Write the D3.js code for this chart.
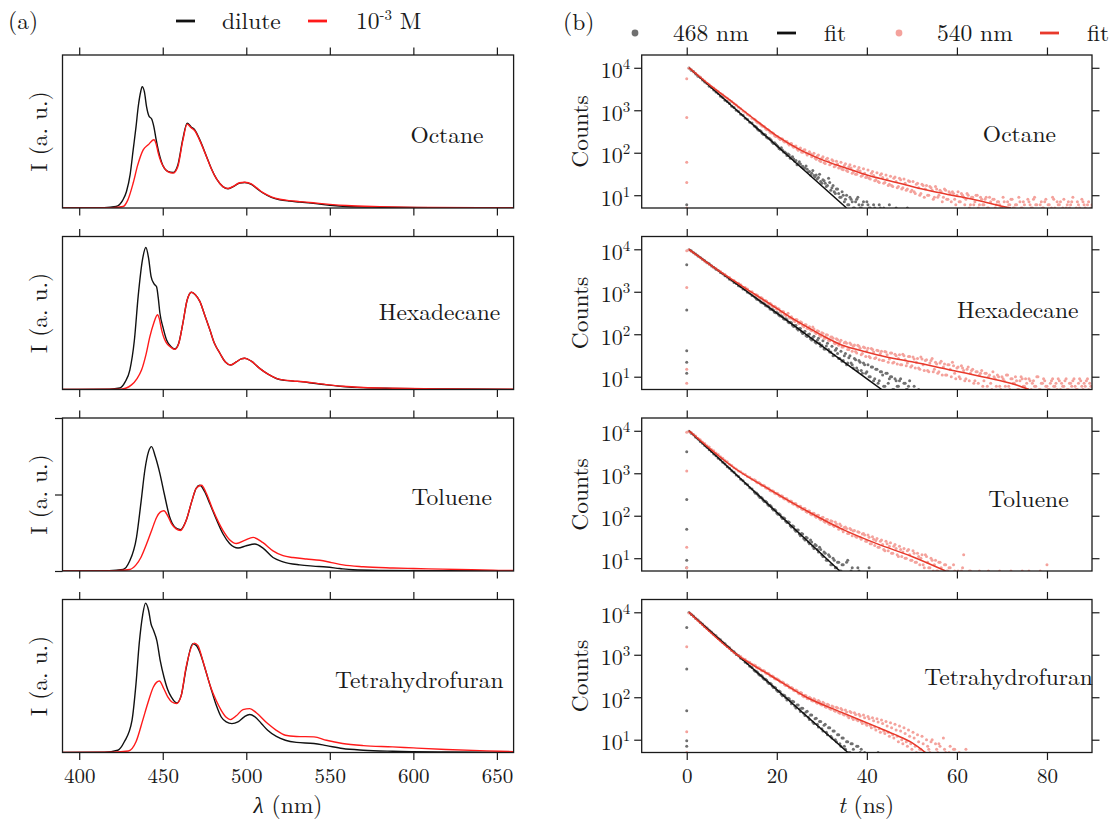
<!DOCTYPE html>
<html>
<head>
<meta charset="utf-8">
<script src="https://cdnjs.cloudflare.com/ajax/libs/d3/7.8.5/d3.min.js"></script>
</head>
<body style="margin:0;background:#fff">
<div id="canvas"></div>
<script>
// ---- data ----
var solvents = ["Octane", "Hexadecane", "Toluene", "Tetrahydrofuran"];
var wavelengthTicks = [400, 450, 500, 550, 600, 650];
var timeTicks = [0, 20, 40, 60, 80];
var countTicks = [10, 100, 1000, 10000];
var intensityTicks = [0, 0.5, 1];   // only drawn on the toluene panel

// emission spectra [nm, normalised intensity]
var octaneDilute = [[390,0],[415,0.002],[422,0.01],[426,0.05],[428.3,0.108],[430.5,0.22],[432.3,0.38],[434,0.53],[435.3,0.66],[436.8,0.76],[437.7,0.793],[439,0.76],[440.3,0.663],[441.8,0.6],[443.3,0.583],[444.7,0.53],[446,0.45],[447.3,0.38],[450,0.28],[453,0.24],[456.2,0.232],[459,0.28],[462,0.45],[464.6,0.555],[467,0.53],[469.2,0.51],[472,0.45],[476.2,0.337],[479,0.26],[482.2,0.19],[486,0.14],[489.1,0.126],[493,0.145],[496,0.163],[499.1,0.167],[503,0.155],[506,0.13],[510,0.098],[515,0.07],[520,0.054],[526,0.045],[532,0.039],[540,0.03],[550,0.018],[560,0.01],[580,0.005],[610,0.002],[660,0.001]];
var octaneConc = [[390,0],[420,0.002],[426.3,0.01],[429,0.05],[432.3,0.163],[435,0.28],[438.3,0.38],[441.3,0.413],[444.7,0.446],[446,0.42],[447.3,0.359],[449,0.3],[451,0.26],[453,0.238],[456.2,0.228],[459,0.27],[462,0.44],[464.6,0.548],[467,0.525],[469.2,0.505],[472,0.445],[476.2,0.335],[479,0.258],[482.2,0.19],[486,0.14],[489.1,0.127],[493,0.147],[496,0.165],[499.1,0.168],[503,0.157],[506,0.133],[510,0.1],[515,0.073],[520,0.057],[526,0.048],[532,0.042],[540,0.034],[550,0.024],[560,0.016],[580,0.009],[610,0.004],[660,0.002]];
var hexadecaneDilute = [[390,0],[418,0.002],[424.3,0.01],[427.5,0.05],[430.3,0.127],[433,0.32],[435.3,0.61],[437.9,0.85],[439.9,0.928],[441.5,0.86],[443,0.74],[444.8,0.69],[446.3,0.671],[447.3,0.6],[448.3,0.5],[450.3,0.4],[452.3,0.324],[455,0.28],[457.2,0.265],[459.5,0.3],[462,0.43],[464.5,0.58],[467.2,0.636],[469.5,0.62],[472.2,0.576],[475,0.49],[478.2,0.39],[481,0.3],[484.2,0.237],[487.5,0.18],[490.7,0.16],[494,0.18],[497,0.2],[499.1,0.204],[503,0.185],[508,0.138],[513,0.1],[518,0.072],[523,0.06],[528,0.055],[534,0.05],[540,0.041],[548,0.03],[557.7,0.02],[570,0.012],[587.7,0.007],[620,0.003],[660,0.001]];
var hexadecaneConc = [[390,0],[425,0.002],[431.3,0.03],[434.5,0.07],[437.3,0.127],[440,0.23],[442.3,0.346],[444.5,0.43],[446.9,0.489],[448,0.46],[449.3,0.39],[451,0.33],[452.5,0.3],[455,0.275],[457.2,0.262],[459.5,0.297],[462,0.43],[464.5,0.58],[467.2,0.636],[469.5,0.62],[472.2,0.576],[475,0.49],[478.2,0.39],[481,0.3],[484.2,0.237],[487.5,0.18],[490.7,0.16],[494,0.18],[497,0.2],[499.1,0.204],[503,0.185],[508,0.138],[513,0.1],[518,0.073],[523,0.061],[528,0.056],[534,0.051],[540,0.043],[548,0.032],[557.7,0.021],[570,0.013],[587.7,0.008],[620,0.004],[660,0.002]];
var tolueneDilute = [[390,0],[418,0.002],[426.3,0.01],[430,0.06],[434.3,0.22],[437,0.45],[439.3,0.66],[441.5,0.78],[443.3,0.813],[445.5,0.75],[448.3,0.637],[451,0.5],[454.2,0.351],[457,0.29],[460.6,0.27],[464,0.33],[467.5,0.46],[470,0.54],[472.2,0.56],[475,0.52],[478.2,0.44],[482,0.34],[486.1,0.242],[490,0.18],[495.1,0.15],[500,0.165],[505.1,0.176],[510,0.15],[516,0.088],[522,0.06],[532,0.04],[540,0.032],[548,0.026],[556,0.016],[563.9,0.008],[580,0.004],[610,0.002],[660,0.001]];
var tolueneConc = [[390,0],[422,0.002],[430.3,0.01],[434,0.04],[437,0.09],[440.3,0.176],[443.5,0.27],[446.3,0.35],[448.5,0.385],[450.7,0.394],[453,0.36],[455.3,0.308],[458,0.275],[460.6,0.265],[464,0.33],[467.5,0.46],[470,0.54],[473.2,0.56],[476,0.51],[480,0.4],[486.1,0.264],[490,0.205],[494.1,0.18],[499,0.2],[504.1,0.22],[510,0.185],[516,0.132],[522,0.1],[528,0.088],[536,0.078],[544,0.07],[551,0.055],[557.9,0.04],[570,0.028],[587.8,0.02],[600,0.016],[617.7,0.012],[635,0.008],[647.5,0.005],[660,0.003]];
var thfDilute = [[390,0],[415,0.002],[423.1,0.015],[427,0.07],[431.6,0.21],[434,0.45],[435.9,0.71],[438,0.9],[439.7,0.976],[441.5,0.93],[443,0.84],[444.4,0.8],[446.5,0.73],[448.5,0.6],[450.8,0.49],[453,0.41],[455.1,0.363],[458.3,0.324],[461,0.37],[464,0.55],[467.9,0.71],[470,0.7],[472.2,0.656],[475,0.56],[478.6,0.428],[482,0.31],[485,0.232],[488,0.2],[491.4,0.189],[495,0.2],[499,0.235],[502.1,0.248],[505,0.235],[509,0.19],[512.8,0.145],[518,0.105],[523.4,0.08],[530,0.066],[540.5,0.059],[548,0.045],[557.6,0.026],[570,0.015],[587.6,0.008],[620,0.003],[660,0.001]];
var thfConc = [[390,0],[420,0.002],[429.5,0.01],[434,0.07],[438,0.21],[441,0.32],[444.4,0.428],[448,0.467],[450.5,0.42],[453,0.363],[455.5,0.33],[458.3,0.32],[461,0.37],[464,0.56],[468.9,0.715],[471,0.7],[474,0.6],[478.6,0.43],[482,0.34],[485,0.276],[488,0.23],[490.4,0.215],[494,0.24],[498,0.28],[502.1,0.287],[506,0.26],[512.8,0.189],[518,0.145],[523.4,0.113],[530,0.105],[540.5,0.102],[548,0.08],[557.6,0.059],[570,0.045],[587.6,0.037],[600,0.03],[619.6,0.02],[640,0.012],[651.6,0.008],[660,0.006]];

// decay histograms: counts per 0.5 ns bin; the "a" sets start at 0.5 ns,
// the "b" sets hold the interleaved channels starting at 15.25 ns
var binWidth = 0.5, startA = 0.5, startB = 15.25;
var octane468 = [9900,8700,8200,7150,6350,5900,5150,4600,4250,3700,3420,2980,2700,2490,2150,1990,1720,1600,1450,1240,1160,1000,935,810,760,650,610,520,500,425,395,340,322,272,262,221,212,176,172,150,126,131,104,99,93,74,80,63,52,61,47,43,49,35,30,38,27,24,31,19,22,16,25,13,17,11,14,9,12,7,10,6,8,5,7,9,5,6,4,7,5,3,6,4,3,5,2,4,3,6,2,3,5,2,4,3,2,5,3,2];
var octane468b = [415,358,336,287,270,230,218,196,166,160,140,120,116,104,86,88,78,71,66,56,54,48,44,41,36,33,29,30,26,21,23,19,17,20,15,12,14,11,9,10,8,6,9,7,5,8,6,5,7,4,6,5,3,5,4,6,3,5];
var octane540 = [9700,9100,8000,7400,6600,6050,5350,4900,4350,4000,3600,3350,2990,2780,2470,2310,2060,1930,1720,1600,1430,1330,1170,1090,960,900,790,740,650,615,545,505,450,420,372,352,305,294,256,243,218,214,188,186,165,162,145,142,124,124,104,116,99,96,95,88,75,84,66,74,58,70,62,55,64,49,54,45,41,50,38,47,44,35,31,40,37,29,33,27,25,33,29,23,21,30,26,20,24,18,17,25,21,16,23,15,19,14,21,13,12,18,15,11,17,14,10,16,13,9,14,10,12,9,13,8,11,12,8,10,7,11,9,8,10,6,9,7,10,6,8,6,9,5,7,8,5,7,6,5,7,4,6,8,5,6,4,7,5,6,4,7,5,8,6,4,6,5,7,4,6,5,8,4,6,7,5,4,6,5,7,4,5,6,4,7,5,6,4,6];
var octane540b = [590,510,490,428,408,350,340,290,285,240,238,205,212,178,184,152,165,135,145,115,130,102,118,88,105,80,97,70,88,62,81,56,74,52,68,47,63,44,60,40,55,36,52,33,48,31,45,28,42,26,39,24,36,22,34,20,32,19,30,17,28,16,27,15,25,14,24,13,22,12,21,11,19,10,18,9,17,10,15,8,16,9,13,7,14,8,12,7,11,6,12,7,10,6,11,5,9,6,10,5,9,6,8,5,9,4,8,6,7,5,9,4,7,6,8,5,6,9,5,7,4,8,6,5,9,6,4,7,5,8,6,4,9,5,7,6,4,8,5,7,6,9,4,7,5,8,6,4,7,5];
var hexadecane468 = [9800,9200,8300,7700,6950,6450,5800,5400,4850,4550,4050,3800,3400,3180,2850,2660,2380,2240,1980,1870,1660,1570,1390,1320,1160,1110,975,925,815,780,680,655,570,545,475,460,395,385,330,325,280,272,232,230,195,192,162,160,135,136,114,112,92,98,78,84,66,72,61,55,45,53,44,38,31,42,35,27,23,31,19,28,21,16,25,14,22,12,19,13,10,17,8,15,7,13,11,6,12,9,10,5,8,6,9,4,7,5,8,3,6,4,5,3];
var hexadecane468b = [735,660,618,552,520,460,435,388,365,322,308,268,258,224,218,186,186,152,160,126,136,104,118,88,101,73,90,62,80,52,70,45,61,38,52,32,46,27,40,24,35,21,31,19,27,16,24,14,21,12,19,10,17,9,15,8,13,6,12,7,10,5,9,6,8,4,7,5,6,3];
var hexadecane540 = [9700,9050,8450,7550,7050,6300,5900,5250,4950,4400,4180,3700,3530,3130,3010,2650,2560,2240,2170,1900,1850,1620,1590,1470,1280,1260,1160,1000,1000,860,850,730,730,620,625,530,540,455,455,390,395,330,340,275,310,240,232,200,220,178,190,150,168,137,128,148,112,121,96,108,82,97,72,86,80,60,74,66,50,63,61,44,57,52,39,55,47,35,48,41,30,46,38,28,41,35,24,39,33,26,36,22,31,27,19,34,25,21,30,18,26,22,16,29,19,24,14,21,27,15,20,13,23,17,11,19,15,22,12,16,10,18,14,9,17,12,15,8,13,11,14,8,12,10,7,13,9,11,6,10,8,11,6,9,7,10,5,8,9,6,7,9,5,8,6,10,5,7,8,6,5,8,6,7,9,5,6,8,5,7,6,9,5,7,8,5,6,9,7,6];
var hexadecane540b = [835,820,712,700,606,600,520,510,442,435,402,345,345,296,292,252,258,216,222,184,198,160,168,138,150,120,132,104,118,90,105,80,96,70,86,62,78,55,72,50,66,44,62,40,56,36,52,33,50,30,47,28,44,27,42,25,40,24,38,22,36,21,34,20,33,19,31,18,30,17,29,16,27,15,26,14,25,13,24,13,22,12,21,11,20,11,19,10,18,9,17,9,16,8,15,8,14,7,13,7,12,6,12,6,11,5,10,6,10,5,9,6,11,5,9,7,8,5,10,6,9,5,8,7,6,10,5,7,9,6,5,7,9,6,5,8,7,6,9,5,7,8,6,5,9,6,7,8,5,6];
var toluene468 = [9800,8800,8050,7050,6400,5600,5100,4480,4080,3560,3250,2840,2590,2260,2070,1810,1650,1430,1320,1150,1050,910,840,725,670,575,535,458,428,365,342,290,274,231,220,184,176,146,140,116,112,93,90,74,72,58,58,47,46,37,38,29,31,24,27,19,21,16,18,12,14,9,12,7,10,6,8,5,7,4,8,3,5,4,2,6,3,4,2,3,6,3,2,4];
var toluene468b = [340,322,270,258,215,208,172,165,137,132,108,106,86,86,69,70,54,56,43,46,34,37,27,30,22,24,17,20,14,16,11,13,9,11,7,9,6,8,5,7,4,9,3,6,4,2,5,3];
var toluene540 = [9500,9150,8100,7500,6650,6150,5450,5050,4450,4130,3640,3390,2990,2780,2450,2270,2010,1870,1640,1530,1340,1260,1130,1090,975,940,840,810,725,700,620,605,535,525,460,450,395,388,345,338,298,294,258,256,224,222,195,193,170,168,147,148,126,130,110,114,98,103,86,90,74,82,66,76,60,71,55,64,48,53,50,38,47,44,33,42,31,37,35,25,31,22,28,26,18,25,21,15,22,19,13,19,17,11,16,14,10,15,12,9,13,8,11,10,7,12,8,6,9,7,5,8,6,4,7,5,6,4,5,3,4,5,12,3,4,5,2,4,3,5,3,4,2,5,3,4,2,3,5,2,4,3,2,5,3,2,4,3,5,2,3,5,2,4,3,2,5,3,4,7,2,3,4,2,3,2,4,3,2,3,2,4,3,2,3,2,3,2,4,2];
var toluene540b = [680,600,585,515,505,445,435,380,378,330,330,285,288,248,252,214,220,186,192,160,168,140,148,120,130,106,115,92,103,80,92,70,82,62,74,56,64,48,58,42,54,38,50,34,45,31,41,28,38,25,35,22,32,20,29,18,27,16,25,15,23,13,21,12,19,11,17,10,16,9,15,8,13,7,12,6,11,6,10,5,9,5,8,4,7,5,6,3,7,4,5,3,6,4,3,5,2,4,3,2];
var thf468 = [9850,8850,8150,7150,6600,5750,5300,4650,4280,3740,3450,3020,2790,2430,2250,1960,1820,1570,1470,1265,1180,1020,955,825,770,665,622,535,503,432,405,348,328,281,265,226,214,183,173,147,140,118,113,97,95,82,80,62,66,53,55,42,45,34,38,26,31,23,27,18,22,15,19,12,16,10,13,8,11,7,9,5,8,6,4,7,5,3,5,4,2,3,4,2,5,3];
var thf468b = [410,382,330,310,266,250,212,204,170,165,136,134,108,110,86,92,70,78,56,66,46,55,37,47,30,38,24,32,20,27,16,23,13,19,11,16,9,13,7,11,6,9,5,8,4,7,3,6,4];
var thf540 = [9600,9100,7950,7350,6400,5900,5150,4750,4150,3830,3330,3080,2680,2480,2160,1990,1740,1610,1400,1290,1120,1050,940,905,808,778,693,668,595,574,510,495,437,425,376,366,322,316,278,273,252,224,218,190,188,165,162,142,142,121,125,103,108,92,95,82,86,72,78,66,71,58,66,52,60,47,56,42,50,38,45,33,44,30,39,28,36,24,33,22,31,19,28,17,26,15,24,14,21,12,19,11,17,9,16,8,14,7,12,6,11,5,9,6,8,4,7,5,10,4,6,8,4,11,5,3,7,4,6,3,5,4,2,6,3,2,4,3,2,3,2,4,3,2,3,2,4,2,3,2];
var thf540b = [560,490,478,420,412,362,355,310,305,268,262,230,228,198,196,170,170,146,148,126,130,108,112,94,100,84,92,76,84,68,76,60,68,54,62,49,58,44,54,40,50,36,46,33,43,30,40,27,38,24,35,22,33,20,31,18,29,16,27,15,25,13,23,12,21,10,19,9,17,8,15,7,13,6,12,5,10,6,9,4,8,5,7,3,6,4,5,3,6,2,4,3,2,4,3,2];

// counts recorded in the excitation-edge channel (t = 0)
var octaneRise468 = [[0,6]];
var octaneRise540 = [[0,5500],[0,680],[0,60],[0,20],[0,5]];
var hexadecaneRise468 = [[0,4300],[0,370],[0,41],[0,22],[0,12]];
var hexadecaneRise540 = [[0,9300],[0,1260],[0,15],[0,7]];
var tolueneRise468 = [[0,3200],[0,240],[0,48],[0,9],[0,6]];
var tolueneRise540 = [[0,9200],[0,1130],[0,18],[0,6]];
var thfRise468 = [[0,4400],[0,460],[0,48],[0,9.4],[0,7]];
var thfRise540 = [[0,1550],[0,15.5],[0,5]];

// fitted decay curves [ns, counts]
var octaneFit468 = [[0.5,10000],[18,225],[35.5,5]];
var octaneFit540 = [[0.5,10000],[5,4000],[10,1600],[15,620],[20,250],[25,120],[30,69],[35,45],[40,30],[45,22],[50,16],[55,12],[60,9.5],[65,7.4],[70,5.5],[72,5]];
var hexadecaneFit468 = [[0.5,10000],[22,220],[43.3,5]];
var hexadecaneFit540 = [[0.5,10000],[5,4470],[10,1950],[15,890],[18.8,490],[22,295],[26.6,151],[30,95],[34.4,56],[38,43],[42.2,33],[46,27],[50,22.4],[57.8,15],[65.6,10],[73.4,6.3],[76,5]];
var tolueneFit468 = [[0.5,10000],[17,237],[34,5]];
var tolueneFit540 = [[0.5,10000],[10.9,1260],[18.8,390],[26.6,131],[34.4,49],[42.2,22],[50,11],[57.5,5]];
var thfFit468 = [[0.5,10000],[18,231],[35.8,5]];
var thfFit540 = [[0.5,10000],[10.9,1050],[18.8,316],[26.6,100],[34.4,44],[42.2,20],[46,13.5],[50,8.5],[53,5]];

// ---- layout ----
var W = 1112, H = 823;
var panelTop0 = 55, panelStep = 181.5, panelH = 153;
var leftRange = [62.5, 513.6], rightRange = [641.7, 1092];
var tickLen = 7.5;
var serif = "'Latin Modern Roman', 'Liberation Serif', serif";
var greek = "'Liberation Serif', serif";
var ink = "#1a1a1a";
var black = "#111", red = "#ff1a1a", fitRed = "#e8392b", grayDot = "#707070", pinkDot = "#f4a29c";
var labelSize = 23.5, tickSize = 21;
// where the solvent name ends (in data units) and its baseline below the panel top
var nameEndNm = [642, 652, 647, 654];
var nameEndNs = [82, 87, 84.8, 90.2];
var nameBaseL = [88, 83, 87, 88];
var nameBaseR = [87, 81, 89, 85];

var panels = [
  {dilute: octaneDilute, conc: octaneConc, d468: [octane468, octane468b], d540: [octane540, octane540b], r468: octaneRise468, r540: octaneRise540, f468: octaneFit468, f540: octaneFit540},
  {dilute: hexadecaneDilute, conc: hexadecaneConc, d468: [hexadecane468, hexadecane468b], d540: [hexadecane540, hexadecane540b], r468: hexadecaneRise468, r540: hexadecaneRise540, f468: hexadecaneFit468, f540: hexadecaneFit540},
  {dilute: tolueneDilute, conc: tolueneConc, d468: [toluene468, toluene468b], d540: [toluene540, toluene540b], r468: tolueneRise468, r540: tolueneRise540, f468: tolueneFit468, f540: tolueneFit540},
  {dilute: thfDilute, conc: thfConc, d468: [thf468, thf468b], d540: [thf540, thf540b], r468: thfRise468, r540: thfRise540, f468: thfFit468, f540: thfFit540}
];

function binned(counts, start) {
  return counts.map(function (c, i) { return [start + i * binWidth, c]; });
}

function label(sel, size) {
  return sel.style("font-family", serif).style("font-size", size + "px").attr("fill", ink);
}

function styleAxis(g) {
  g.select(".domain").remove();
  g.selectAll(".tick line").attr("stroke", ink).attr("stroke-width", 1.2);
  g.selectAll(".tick text").style("font-family", serif).style("font-size", tickSize + "px").attr("fill", ink);
}

var svg = d3.select("#canvas").append("svg")
  .attr("width", W).attr("height", H)
  .style("background", "#fff");

var xL = d3.scaleLinear().domain([390, 660]).range(leftRange);
var xR = d3.scaleLinear().domain([-10, 90]).range(rightRange);

panels.forEach(function (p, i) {
  var top = panelTop0 + i * panelStep, bottom = top + panelH;
  var last = i === panels.length - 1;
  var yL = d3.scaleLinear().domain([0, 1]).range([bottom, top]);
  var yR = d3.scaleLog().domain([5, 20000]).range([bottom, top]);

  var defs = svg.append("defs");
  defs.append("clipPath").attr("id", "clipL" + i).append("rect")
    .attr("x", leftRange[0]).attr("y", top).attr("width", leftRange[1] - leftRange[0]).attr("height", panelH);
  defs.append("clipPath").attr("id", "clipR" + i).append("rect")
    .attr("x", rightRange[0]).attr("y", top).attr("width", rightRange[1] - rightRange[0]).attr("height", panelH);

  // ----- (a) spectra -----
  var specLine = d3.line()
    .x(function (d) { return xL(d[0]); })
    .y(function (d) { return yL(d[1]); })
    .curve(d3.curveMonotoneX);

  var gl = svg.append("g").attr("clip-path", "url(#clipL" + i + ")");
  gl.append("path").datum(p.dilute).attr("d", specLine)
    .attr("fill", "none").attr("stroke", black).attr("stroke-width", 1.4);
  gl.append("path").datum(p.conc).attr("d", specLine)
    .attr("fill", "none").attr("stroke", red).attr("stroke-width", 1.4);

  svg.append("g").attr("transform", "translate(0," + top + ")")
    .call(d3.axisTop(xL).tickValues(wavelengthTicks).tickSize(tickLen).tickFormat(""))
    .call(styleAxis);
  svg.append("g").attr("transform", "translate(0," + bottom + ")")
    .call(d3.axisBottom(xL).tickValues(wavelengthTicks).tickSize(tickLen).tickPadding(8)
      .tickFormat(last ? d3.format("d") : ""))
    .call(styleAxis);
  if (i === 2) {
    svg.append("g").attr("transform", "translate(" + leftRange[0] + ",0)")
      .call(d3.axisLeft(yL).tickValues(intensityTicks).tickSize(tickLen).tickFormat(""))
      .call(styleAxis);
  }
  svg.append("rect")
    .attr("x", leftRange[0]).attr("y", top)
    .attr("width", leftRange[1] - leftRange[0]).attr("height", panelH)
    .attr("fill", "none").attr("stroke", ink).attr("stroke-width", 1.3);

  svg.append("text")
    .attr("transform", "translate(47," + (top + panelH / 2) + ") rotate(-90)")
    .attr("text-anchor", "middle")
    .call(label, labelSize)
    .text("I (a. u.)");

  svg.append("text")
    .attr("x", xL(nameEndNm[i])).attr("y", top + nameBaseL[i])
    .attr("text-anchor", "end")
    .call(label, labelSize)
    .text(solvents[i]);

  // ----- (b) decays -----
  var gr = svg.append("g").attr("clip-path", "url(#clipR" + i + ")");
  var dots468 = p.r468.concat(binned(p.d468[0], startA), binned(p.d468[1], startB));
  var dots540 = p.r540.concat(binned(p.d540[0], startA), binned(p.d540[1], startB));

  gr.selectAll("circle.d468").data(dots468).enter()
    .append("circle").attr("class", "d468")
    .attr("cx", function (d) { return xR(d[0]); })
    .attr("cy", function (d) { return yR(Math.max(d[1], 1)); })
    .attr("r", 1.5).attr("fill", grayDot);
  gr.selectAll("circle.d540").data(dots540).enter()
    .append("circle").attr("class", "d540")
    .attr("cx", function (d) { return xR(d[0]); })
    .attr("cy", function (d) { return yR(Math.max(d[1], 1)); })
    .attr("r", 1.5).attr("fill", pinkDot);

  var fitLine = d3.line()
    .x(function (d) { return xR(d[0]); })
    .y(function (d) { return yR(d[1]); })
    .curve(d3.curveMonotoneX);
  gr.append("path").datum(p.f468).attr("d", fitLine)
    .attr("fill", "none").attr("stroke", black).attr("stroke-width", 1.5);
  gr.append("path").datum(p.f540).attr("d", fitLine)
    .attr("fill", "none").attr("stroke", fitRed).attr("stroke-width", 1.5);

  svg.append("g").attr("transform", "translate(0," + top + ")")
    .call(d3.axisTop(xR).tickValues(timeTicks).tickSize(tickLen).tickFormat(""))
    .call(styleAxis);
  svg.append("g").attr("transform", "translate(0," + bottom + ")")
    .call(d3.axisBottom(xR).tickValues(timeTicks).tickSize(tickLen).tickPadding(8)
      .tickFormat(last ? d3.format("d") : ""))
    .call(styleAxis);
  svg.append("g").attr("transform", "translate(" + rightRange[1] + ",0)")
    .call(d3.axisRight(yR).tickValues(countTicks).tickSize(tickLen).tickFormat(""))
    .call(styleAxis);
  var yAx = svg.append("g").attr("transform", "translate(" + rightRange[0] + ",0)")
    .call(d3.axisLeft(yR).tickValues(countTicks).tickSize(tickLen).tickPadding(4))
    .call(styleAxis);
  yAx.selectAll(".tick text").each(function (d) {
    var t = d3.select(this).text("").attr("dy", "0.45em").style("font-size", "22px");
    t.append("tspan").text("10");
    t.append("tspan").attr("dy", -9).style("font-size", "15px").text(Math.round(Math.log10(d)));
  });

  svg.append("rect")
    .attr("x", rightRange[0]).attr("y", top)
    .attr("width", rightRange[1] - rightRange[0]).attr("height", panelH)
    .attr("fill", "none").attr("stroke", ink).attr("stroke-width", 1.3);

  svg.append("text")
    .attr("transform", "translate(588," + (top + panelH / 2) + ") rotate(-90)")
    .attr("text-anchor", "middle")
    .call(label, labelSize)
    .text("Counts");

  svg.append("text")
    .attr("x", xR(nameEndNs[i])).attr("y", top + nameBaseR[i])
    .attr("text-anchor", "end")
    .call(label, labelSize)
    .text(solvents[i]);
});

// ---- axis titles ----
var xt1 = svg.append("text").attr("x", 288).attr("y", 813)
  .attr("text-anchor", "middle").call(label, labelSize);
xt1.append("tspan").style("font-family", greek).style("font-style", "italic").text("λ");
xt1.append("tspan").text(" (nm)");
var xt2 = svg.append("text").attr("x", 866).attr("y", 813)
  .attr("text-anchor", "middle").call(label, labelSize);
xt2.append("tspan").style("font-style", "italic").text("t");
xt2.append("tspan").text(" (ns)");

// ---- panel letters ----
svg.append("text").attr("x", 8).attr("y", 29).call(label, labelSize).text("(a)");
svg.append("text").attr("x", 563).attr("y", 30).call(label, labelSize).text("(b)");

// ---- legend (a) ----
var legA = [
  {color: black, x: 176},
  {color: red, x: 308}
];
legA.forEach(function (l) {
  svg.append("line").attr("x1", l.x).attr("x2", l.x + 19).attr("y1", 21).attr("y2", 21)
    .attr("stroke", l.color).attr("stroke-width", 2.8);
});
svg.append("text").attr("x", 222).attr("y", 29).call(label, labelSize).text("dilute");
var concLabel = svg.append("text").attr("x", 356).attr("y", 29).call(label, labelSize);
concLabel.append("tspan").text("10");
concLabel.append("tspan").attr("dy", -9).style("font-size", "15px").text("-3");
concLabel.append("tspan").attr("dy", 9).text(" M");

// ---- legend (b) ----
var legY = 33;
svg.append("circle").attr("cx", 635).attr("cy", legY).attr("r", 3.4).attr("fill", grayDot);
svg.append("text").attr("x", 673).attr("y", legY + 8).call(label, labelSize).text("468 nm");
svg.append("line").attr("x1", 777).attr("x2", 796).attr("y1", legY).attr("y2", legY)
  .attr("stroke", black).attr("stroke-width", 2.8);
svg.append("text").attr("x", 824).attr("y", legY + 8).call(label, labelSize).text("fit");
svg.append("circle").attr("cx", 899).attr("cy", legY).attr("r", 3.4).attr("fill", pinkDot);
svg.append("text").attr("x", 937).attr("y", legY + 8).call(label, labelSize).text("540 nm");
svg.append("line").attr("x1", 1040).attr("x2", 1059).attr("y1", legY).attr("y2", legY)
  .attr("stroke", fitRed).attr("stroke-width", 2.8);
svg.append("text").attr("x", 1087).attr("y", legY + 8).call(label, labelSize).text("fit");
</script>
</body>
</html>
